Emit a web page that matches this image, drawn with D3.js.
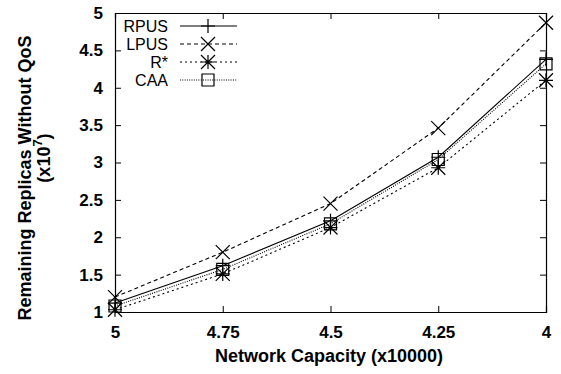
<!DOCTYPE html>
<html>
<head>
<meta charset="utf-8">
<script src="https://cdn.jsdelivr.net/npm/d3@7"></script>
<style>
  body { margin: 0; background: #fff; }
  text { font-family: "Liberation Sans", Arial, sans-serif; }
</style>
</head>
<body>
<div id="chart"></div>
<script>
// capacity values along x (reversed axis, 5 on the left)
const capacities = [5, 4.75, 4.5, 4.25, 4];
const xTickLabels = ["5", "4.75", "4.5", "4.25", "4"];
const yTicks = [1, 1.5, 2, 2.5, 3, 3.5, 4, 4.5, 5];

const rpus = [1.12, 1.62, 2.22, 3.07, 4.38];
const lpus = [1.2, 1.8, 2.45, 3.46, 4.87];
const rstar = [1.03, 1.51, 2.13, 2.93, 4.1];
const caa = [1.08, 1.57, 2.18, 3.04, 4.32];

const seriesNames = ["RPUS", "LPUS", "R*", "CAA"];
const seriesValues = [rpus, lpus, rstar, caa];

const width = 561, height = 374;
const margin = {top: 13, right: 15, bottom: 62, left: 115};

const svg = d3.select("#chart").append("svg")
    .attr("width", width)
    .attr("height", height);

const x = d3.scaleLinear().domain([5, 4]).range([margin.left, width - margin.right]);
const y = d3.scaleLinear().domain([1, 5]).range([height - margin.bottom, margin.top]);

// line style + marker per series
const styles = [
    {dash: null, marker: "plus"},
    {dash: "4,3", marker: "cross"},
    {dash: "2,3", marker: "star"},
    {dash: "1,1.3", marker: "square"}
];

function drawMarker(g, kind, cx, cy) {
    const s = 7;
    const p = d3.path();
    if (kind === "plus" || kind === "star") {
        p.moveTo(cx - s, cy); p.lineTo(cx + s, cy);
        p.moveTo(cx, cy - s); p.lineTo(cx, cy + s);
    }
    if (kind === "cross" || kind === "star") {
        p.moveTo(cx - s, cy - s); p.lineTo(cx + s, cy + s);
        p.moveTo(cx - s, cy + s); p.lineTo(cx + s, cy - s);
    }
    if (kind === "square") {
        p.rect(cx - 6, cy - 6, 12, 12);
    }
    g.append("path")
        .attr("d", p.toString())
        .attr("fill", "none")
        .attr("stroke", "#000")
        .attr("stroke-width", 1.2);
}

// axes: ticks inward, mirrored on top/right like gnuplot
const axisG = svg.append("g");
const tickLen = 6;

axisG.append("g")
    .attr("transform", `translate(0,${y(1)})`)
    .call(d3.axisBottom(x).tickValues(capacities).tickSize(-tickLen).tickPadding(14)
        .tickFormat((d, i) => xTickLabels[i]));

axisG.append("g")
    .attr("transform", `translate(${x(5)},0)`)
    .call(d3.axisLeft(y).tickValues(yTicks).tickSize(-tickLen).tickPadding(12)
        .tickFormat(d3.format("")));

axisG.append("g")
    .attr("transform", `translate(0,${y(5)})`)
    .call(d3.axisTop(x).tickValues(capacities).tickSize(-tickLen).tickFormat(""));

axisG.append("g")
    .attr("transform", `translate(${x(4)},0)`)
    .call(d3.axisRight(y).tickValues(yTicks).tickSize(-tickLen).tickFormat(""));

axisG.selectAll(".domain").attr("stroke", "#000").attr("stroke-width", 1.2);
axisG.selectAll(".tick line").attr("stroke", "#000");
axisG.selectAll(".tick text")
    .attr("fill", "#000")
    .style("font-size", "17px")
    .style("font-weight", "bold")
    .style("font-family", "'Liberation Sans', Arial, sans-serif");

// series
const line = d3.line()
    .x((d, i) => x(capacities[i]))
    .y(d => y(d));

seriesValues.forEach((vals, k) => {
    const g = svg.append("g");
    g.append("path")
        .datum(vals)
        .attr("d", line)
        .attr("fill", "none")
        .attr("stroke", "#000")
        .attr("stroke-width", 1.1)
        .attr("stroke-dasharray", styles[k].dash);
    vals.forEach((v, i) => drawMarker(g, styles[k].marker, x(capacities[i]), y(v)));
});

// legend
const legend = svg.append("g");
seriesNames.forEach((name, k) => {
    const ly = 26 + k * 18;
    legend.append("text")
        .attr("x", 168)
        .attr("y", ly)
        .attr("dy", "0.35em")
        .attr("text-anchor", "end")
        .style("font-size", "16px")
        .text(name);
    legend.append("line")
        .attr("x1", 180).attr("x2", 237)
        .attr("y1", ly).attr("y2", ly)
        .attr("stroke", "#000")
        .attr("stroke-width", 1.1)
        .attr("stroke-dasharray", styles[k].dash);
    drawMarker(legend, styles[k].marker, 208, ly);
});

// axis titles
svg.append("text")
    .attr("x", 329)
    .attr("y", 362)
    .attr("text-anchor", "middle")
    .style("font-size", "18px")
    .style("font-weight", "bold")
    .text("Network Capacity (x10000)");

svg.append("text")
    .attr("transform", "translate(25,178) rotate(-90)")
    .attr("dy", "0.35em")
    .attr("text-anchor", "middle")
    .style("font-size", "18px")
    .style("font-weight", "bold")
    .text("Remaining Replicas Without QoS");

const yt2 = svg.append("text")
    .attr("transform", "translate(44,158) rotate(-90)")
    .attr("dy", "0.35em")
    .attr("text-anchor", "middle")
    .style("font-size", "18px")
    .style("font-weight", "bold");
yt2.append("tspan").text("(x10");
yt2.append("tspan").attr("dy", "-8").style("font-size", "13px").text("7");
yt2.append("tspan").attr("dy", "8").text(")");
</script>
</body>
</html>
